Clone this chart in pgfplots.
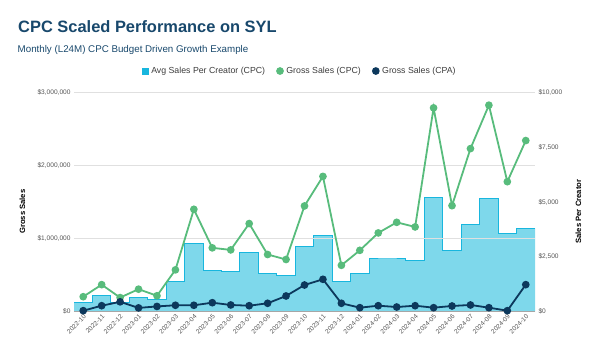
\documentclass[border=0pt]{standalone}
\usepackage{fontspec}
\setmainfont{Liberation Sans}
\usepackage{pgfplots}
\pgfplotsset{compat=1.18}
\definecolor{titleblue}{RGB}{24,72,108}
\definecolor{cpcgreen}{RGB}{88,188,124}
\definecolor{cpanavy}{RGB}{12,56,92}
\definecolor{areafill}{RGB}{126,216,235}
\definecolor{areaedge}{RGB}{24,182,222}
\definecolor{gridgray}{RGB}{224,224,224}
\definecolor{ticktext}{RGB}{85,85,85}
\definecolor{legtext}{RGB}{60,60,60}

\begin{document}
\begin{tikzpicture}
\useasboundingbox (-74bp,-40.3bp) rectangle (526bp,311.7bp);
\pgfplotsset{
  base/.style={
    width=461bp, height=219.4bp, scale only axis,
    xmin=-0.5, xmax=24.5,
    /pgf/number format/assume math mode=true,
    major tick length=0pt,
    scaled y ticks=false,
    clip=false,
  }
}
% ---------- right axis: stepped area ----------
\begin{axis}[base,
  at={(0,0)}, anchor=south west,
  ymin=0, ymax=10000,
  axis y line*=right,
  hide x axis,
  y axis line style={draw=none},
  ytick={0,2500,5000,7500,10000},
  yticklabels={{\$0},{\$2,500},{\$5,000},{\$7,500},{\$10,000}},
  y tick label style={font=\fontsize{6.6}{7}\selectfont, text=ticktext},
  ylabel={Sales Per Creator},
  ylabel style={font=\fontsize{7.7}{9}\selectfont\bfseries, at={(axis description cs:1.094,0.456)}, anchor=center, rotate=0},
]
\addplot[const plot mark left, fill=areafill, draw=none] coordinates {
 (-0.5,440) (0.5,761) (1.5,440) (2.5,665) (3.5,565) (4.5,1360) (5.5,3118)
 (6.5,1887) (7.5,1823) (8.5,2707) (9.5,1750) (10.5,1641) (11.5,2949)
 (12.5,3464) (13.5,1360) (14.5,1745) (15.5,2402) (16.5,2402) (17.5,2311)
 (18.5,5214) (19.5,2812) (20.5,3984) (21.5,5169) (22.5,3573) (23.5,3801) (24.5,3801)
} \closedcycle;
\addplot[const plot mark left, draw=areaedge, line width=1bp] coordinates {
 (-0.5,440) (0.5,761) (1.5,440) (2.5,665) (3.5,565) (4.5,1360) (5.5,3118)
 (6.5,1887) (7.5,1823) (8.5,2707) (9.5,1750) (10.5,1641) (11.5,2949)
 (12.5,3464) (13.5,1360) (14.5,1745) (15.5,2402) (16.5,2402) (17.5,2311)
 (18.5,5214) (19.5,2812) (20.5,3984) (21.5,5169) (22.5,3573) (23.5,3801) (24.5,3801)
};
\end{axis}
% ---------- left axis: gross sales lines ----------
\begin{axis}[base,
  at={(0,0)}, anchor=south west,
  ymin=0, ymax=3000000,
  axis y line*=left,
  axis x line*=bottom,
  y axis line style={draw=none},
  x axis line style={draw=gray!70, line width=0.7bp, -},
  ymajorgrids, grid style={gridgray, line width=0.8bp},
  ytick={0,1000000,2000000,3000000},
  yticklabels={{\$0},{\$1,000,000},{\$2,000,000},{\$3,000,000}},
  y tick label style={font=\fontsize{6.6}{7}\selectfont, text=ticktext},
  xtick={0,...,24},
  xticklabels={2022-10,2022-11,2022-12,2023-01,2023-02,2023-03,2023-04,2023-05,2023-06,2023-07,2023-08,2023-09,2023-10,2023-11,2023-12,2024-01,2024-02,2024-03,2024-04,2024-05,2024-06,2024-07,2024-08,2024-09,2024-10},
  x tick label style={font=\fontsize{6.5}{7}\selectfont, text=ticktext, rotate=45, anchor=north east, inner sep=1.5bp},
  ylabel={Gross Sales},
  ylabel style={font=\fontsize{7.7}{9}\selectfont\bfseries, at={(axis description cs:-0.112,0.456)}, anchor=center},
  legend columns=3,
  legend style={draw=none, fill=none, at={(axis description cs:0.490,1.097)}, anchor=center,
    font=\fontsize{8.8}{10}\selectfont, text=legtext,
    /tikz/every even column/.append style={column sep=10bp},
    /tikz/every odd column/.append style={column sep=1.5bp}},
  legend cell align=left,
  legend image code/.code={\draw[#1] plot coordinates {(0bp,0bp)};},
]
\addlegendimage{only marks, mark=square*, mark size=2.8bp, color=areaedge}
\addlegendentry{Avg Sales Per Creator (CPC)}
\addplot[cpcgreen, line width=1.8bp, mark=*, mark size=2.9bp] coordinates {
 (0,205000) (1,370000) (2,193000) (3,308000) (4,218000) (5,572000) (6,1400000)
 (7,873000) (8,845000) (9,1205000) (10,782000) (11,714000) (12,1446000)
 (13,1850000) (14,634000) (15,839000) (16,1077000) (17,1222000) (18,1159000)
 (19,2787000) (20,1450000) (21,2230000) (22,2824000) (23,1778000) (24,2340000)
};
\addlegendentry{Gross Sales (CPC)}
\addplot[cpanavy, line width=1.8bp, mark=*, mark size=2.9bp] coordinates {
 (0,14000) (1,82000) (2,135000) (3,52000) (4,72000) (5,88000) (6,88000)
 (7,123000) (8,92000) (9,82000) (10,115000) (11,215000) (12,365000)
 (13,443000) (14,115000) (15,55000) (16,82000) (17,64000) (18,82000)
 (19,55000) (20,78000) (21,92000) (22,55000) (23,14000) (24,370000)
};
\addlegendentry{Gross Sales (CPA)}
\end{axis}
\node[anchor=base west, inner sep=0, font=\fontsize{16.5}{19}\selectfont\bfseries, text=titleblue] at (-56bp,278.7bp) {CPC Scaled Performance on SYL};
\node[anchor=base west, inner sep=0, font=\fontsize{9.8}{12}\selectfont, text=titleblue] at (-56.5bp,259.5bp) {Monthly (L24M) CPC Budget Driven Growth Example};
\end{tikzpicture}
\end{document}
